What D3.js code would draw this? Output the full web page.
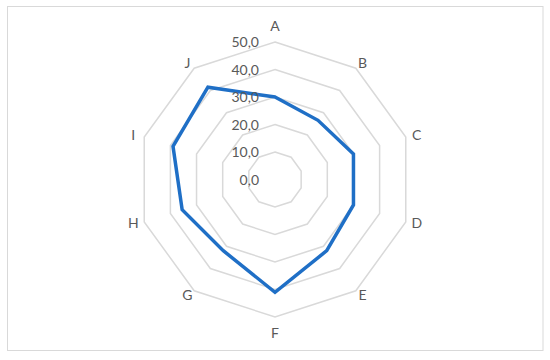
<!DOCTYPE html>
<html><head><meta charset="utf-8">
<script src="https://cdn.jsdelivr.net/npm/d3@7"></script>
<style>body{margin:0;background:#fff}</style>
</head><body>
<svg id="c" width="550" height="360"></svg>
<script>
const categories = ["A","B","C","D","E","F","G","H","I","J"];
const values = [30, 26.6, 30, 30, 32, 41, 32, 35.5, 39, 41.5];
const tickValues = [0, 10, 20, 30, 40, 50];
const tickLabels = ["0,0","10,0","20,0","30,0","40,0","50,0"];

const svg = d3.select("#c");
const cx = 275, cy = 179.5, R = 137.5;
svg.append("rect").attr("x",7.5).attr("y",6.5).attr("width",535.5).attr("height",344)
  .attr("fill","#fff").attr("stroke","#d9d9d9").attr("stroke-width",1);

const r = d3.scaleLinear().domain([0,50]).range([0,R]);
const ang = d3.scalePoint().domain(categories).range([0, 2*Math.PI*(categories.length-1)/categories.length]);
const g = svg.append("g").attr("transform",`translate(${cx},${cy})`);

const radial = d3.lineRadial().angle(d=>ang(d.c)).radius(d=>r(d.v)).curve(d3.curveLinearClosed);

// gridlines
tickValues.filter(t=>t>0).forEach(t=>{
  g.append("path").attr("d", radial(categories.map(c=>({c, v:t}))))
    .attr("fill","none").attr("stroke","#d9d9d9").attr("stroke-width",1.5);
});

// series
g.append("path").attr("d", radial(categories.map((c,i)=>({c, v:values[i]}))))
  .attr("fill","none").attr("stroke","#1f6fc6").attr("stroke-width",3.5).attr("stroke-linejoin","miter");

const font = "Lato, 'Open Sans', sans-serif";
// tick labels
g.selectAll("text.tick").data(tickValues).enter().append("text")
  .attr("x",-16).attr("y",d=>-r(d)).attr("dy","0.36em")
  .attr("text-anchor","end").attr("font-family",font)
  .attr("font-size",14).attr("fill","#595959")
  .text((d,i)=>tickLabels[i]);

// category labels
g.selectAll("text.cat").data(categories).enter().append("text")
  .each(function(c){
    const a = ang(c), s = Math.sin(a), co = Math.cos(a);
    const vx = R*s, vy = -R*co;
    let ox, oy;
    if (Math.abs(s) < 0.1) { ox = 0; oy = -co*16; }
    else { ox = s*11.5; oy = -co*6 - 0.7; }
    d3.select(this).attr("x", vx+ox).attr("y", vy+oy).attr("dy","0.36em")
      .attr("text-anchor","middle");
  })
  .attr("font-family",font).attr("font-size",14).attr("fill","#595959")
  .text(d=>d);
</script>
</body></html>
